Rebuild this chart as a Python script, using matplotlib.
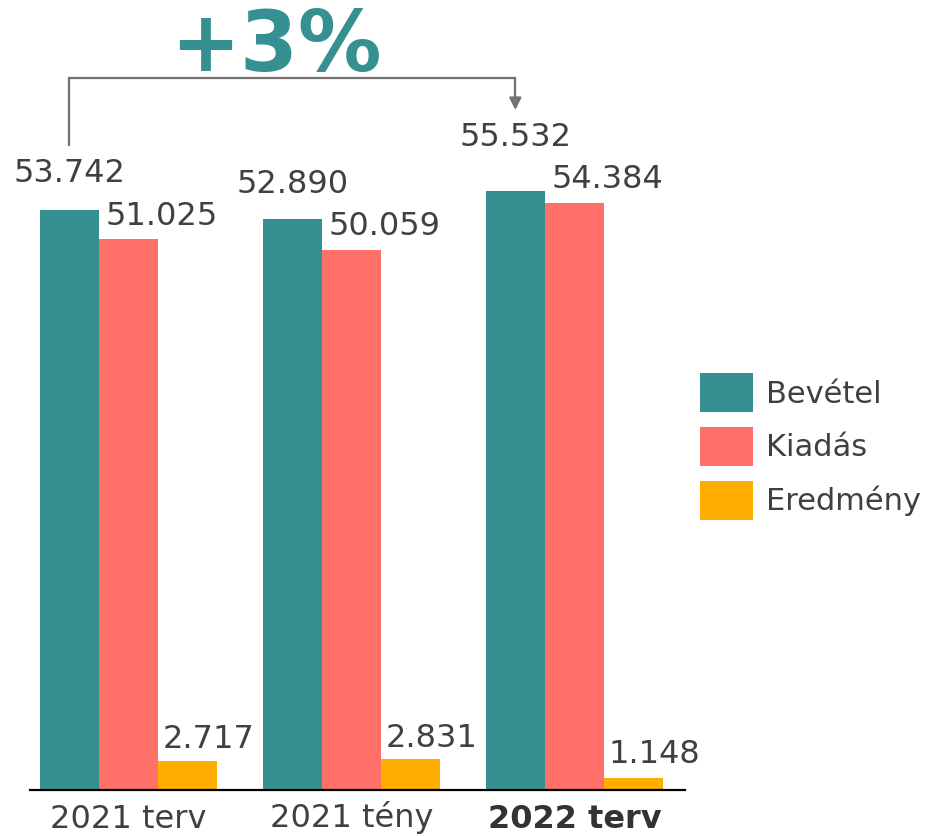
import matplotlib
matplotlib.use("Agg")
import matplotlib.pyplot as plt
from matplotlib.patches import Patch
import numpy as np

categories = ["2021 terv", "2021 tény", "2022 terv"]
series_names = ["Bevétel", "Kiadás", "Eredmény"]
bevetel = [53742, 52890, 55532]
kiadas = [51025, 50059, 54384]
eredmeny = [2717, 2831, 1148]
value_labels = [
    ["53.742", "52.890", "55.532"],
    ["51.025", "50.059", "54.384"],
    ["2.717", "2.831", "1.148"],
]
growth_label = "+3%"

colors = ["#368F91", "#FF7068", "#FFAE00"]
text_color = "#404040"

W, H = 931, 836
fig = plt.figure(figsize=(W / 100, H / 100), dpi=100)
ax = fig.add_axes([30 / W, (H - 790) / H, (685 - 30) / W, 790 / H])

x = np.arange(len(categories))
bw = 0.265
offsets = [-bw, 0, bw]
label_dx = [0, 24, 15]  # points
# vertical gap (px) between bar top and label centre
label_dy = [[36, 35, 53], [23, 23, 24], [21, 21, 23]]
series = [bevetel, kiadas, eredmeny]
for s, vals in enumerate(series):
    bars = ax.bar(x + offsets[s], vals, width=bw, color=colors[s], label=series_names[s],
                  linewidth=0)
    for i, b in enumerate(bars):
        ax.annotate(value_labels[s][i], (b.get_x() + b.get_width() / 2, b.get_height()),
                    xytext=(label_dx[s], label_dy[s][i] * 0.72), textcoords="offset points",
                    ha="center", va="center", fontsize=23, color=text_color)

ax.set_xlim(-0.442, 2.496)
ax.set_ylim(0, 790 / 0.010793)
for sp in ["top", "right", "left"]:
    ax.spines[sp].set_visible(False)
ax.spines["bottom"].set_linewidth(1.6)
ax.spines["bottom"].set_color("black")
ax.set_yticks([])
ax.set_xticks(x)
ax.set_xticklabels(categories, fontsize=23, color=text_color, va="baseline")
ax.tick_params(axis="x", length=0, pad=27)
ax.get_xticklabels()[2].set_fontweight("bold")
ax.get_xticklabels()[2].set_color("#333333")

# bracket annotation
gray = "#767171"
bx0 = 0 - bw
bx1 = 2 - bw
y_top = 78
y0 = 145
y_tip = 110
def py(p):
    # pixel y (from top) to data y
    return (790 - p) / 0.010793
ax.plot([bx0, bx0, bx1, bx1], [py(y0), py(y_top), py(y_top), py(y_tip - 12)],
        color=gray, lw=1.6, clip_on=False, solid_joinstyle="miter")
ax.annotate("", xy=(bx1, py(y_tip)), xytext=(bx1, py(y_tip - 14)),
            arrowprops=dict(arrowstyle="-|>", color=gray, lw=1.6,
                            mutation_scale=18, shrinkA=0, shrinkB=0),
            annotation_clip=False)
fig.text(276 / W, 1 - 48 / H, growth_label, fontsize=60, fontweight="bold",
         color="#368F91", ha="center", va="center")

handles = [Patch(facecolor=c, edgecolor="none") for c in colors]
fig.legend(handles, series_names, loc="upper left",
           bbox_to_anchor=(700 / W, 1 - 373 / H), bbox_transform=fig.transFigure,
           frameon=False, fontsize=22, handlelength=1.73, handleheight=1.585,
           handletextpad=0.42, labelspacing=0.49, borderpad=0, borderaxespad=0,
           labelcolor=text_color)

fig.savefig("out.png", dpi=100)
